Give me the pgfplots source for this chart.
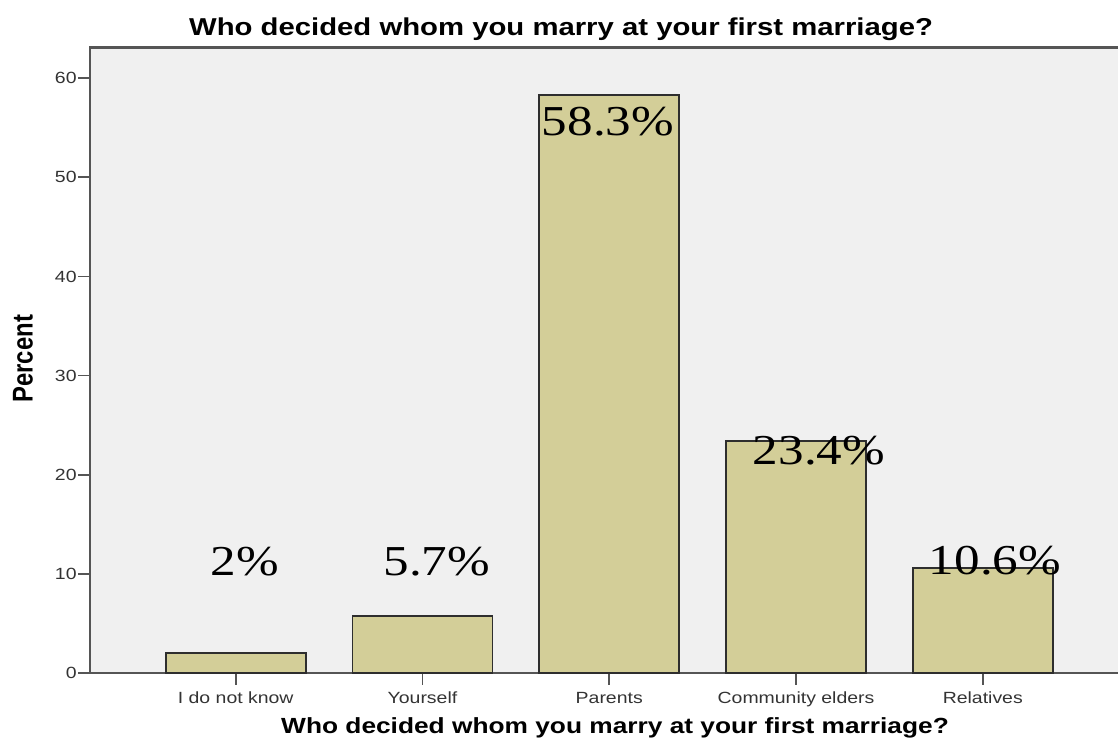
\documentclass[border=0pt]{standalone}
\usepackage{pgfplots}
\pgfplotsset{compat=1.18}
\usepackage{fontspec}
\setmainfont{Liberation Sans}
\newfontfamily\tickf[FakeStretch=1.2]{Liberation Sans}
\newfontfamily\serf[FakeStretch=1.2]{Liberation Serif}
\definecolor{bgc}{HTML}{F0F0F0}
\definecolor{barc}{HTML}{D3CE98}
\definecolor{barb}{HTML}{2E2E2E}
\definecolor{axc}{HTML}{555555}
\definecolor{tickc}{HTML}{333333}
\begin{document}
\begin{tikzpicture}
\begin{axis}[
  scale only axis, width=519pt, height=312.5pt,
  xmin=-0.78, xmax=4.78, ymin=0, ymax=63.1,
  axis background/.style={fill=bgc},
  axis line style={axc, line width=1.2pt},
  xtick={0,1,2,3,4},
  xticklabels={I do not know, Yourself, Parents, Community elders, Relatives},
  ytick={0,10,20,30,40,50,60},
  tick align=outside, tick pos=left,
  major tick style={axc, line width=0.9pt},
  major tick length=6pt,
  ticklabel style={font=\tickf\fontsize{8.1}{9.5}\selectfont, text=tickc},
  yticklabel style={inner xsep=0.5pt},
  /pgf/number format/assume math mode=true,
  clip=false,
]
\addplot[ybar, bar width=0.75, fill=barc, draw=barb, line width=0.9pt]
  coordinates {(0,2.0) (1,5.7) (2,58.3) (3,23.4) (4,10.6)};
\node[anchor=base, font=\serf\fontsize{21.3}{25}\selectfont, inner sep=0pt] at (axis cs:0.048,9.8) {2\%};
\node[anchor=base, font=\serf\fontsize{21.3}{25}\selectfont, inner sep=0pt] at (axis cs:1.077,9.8) {5.7\%};
\node[anchor=base, font=\serf\fontsize{21.3}{25}\selectfont, inner sep=0pt] at (axis cs:1.993,54.2) {58.3\%};
\node[anchor=base, font=\serf\fontsize{21.3}{25}\selectfont, inner sep=0pt] at (axis cs:3.123,21.0) {23.4\%};
\node[anchor=base, font=\serf\fontsize{21.3}{25}\selectfont, inner sep=0pt] at (axis cs:4.065,9.9) {10.6\%};
\node[anchor=base, font=\tickf\bfseries\fontsize{12.2}{14}\selectfont, inner sep=0pt] at (axis cs:1.742,64.27) {Who decided whom you marry at your first marriage?};
\node[anchor=base, font=\tickf\bfseries\fontsize{10.95}{13}\selectfont, inner sep=0pt] at (axis cs:2.031,-6.13) {Who decided whom you marry at your first marriage?};
\node[rotate=90, yscale=1.2, font=\bfseries\fontsize{11.9}{14}\selectfont, inner sep=0pt] at (axis cs:-1.139,31.7) {Percent};
\coordinate (BL) at (axis cs:-1.262,-7.07);
\coordinate (TR) at (axis cs:4.724,67.9);
\end{axis}
\pgfresetboundingbox
\useasboundingbox (BL) rectangle (TR);
\end{tikzpicture}
\end{document}
